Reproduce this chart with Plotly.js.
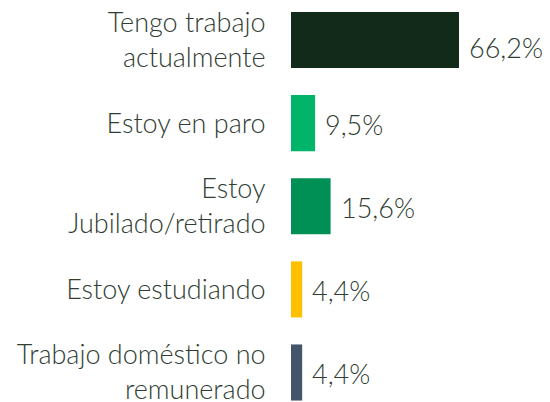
<!DOCTYPE html>
<html><head><meta charset="utf-8">
<script src="https://cdn.plot.ly/plotly-3.0.1.min.js"></script>
<style>html,body{margin:0;padding:0;background:#fff}</style>
</head><body><div id="chart" style="width:550px;height:402px"></div>
<script>
const categories = ["Tengo trabajo<br>actualmente", "Estoy en paro", "Estoy<br>Jubilado/retirado", "Estoy estudiando", "Trabajo doméstico no<br>remunerado"];
const values = [66.2, 9.5, 15.6, 4.4, 4.4];
const valueLabels = ["66,2%", "9,5%", "15,6%", "4,4%", "4,4%"];
const colors = ["#122a19", "#00b46a", "#008f55", "#ffc000", "#44546a"];

const textColor = "#2f3d33";
const fontFam = "Lato, 'Open Sans', sans-serif";

const trace = {
  type: "bar", orientation: "h",
  x: values, y: categories,
  marker: {color: colors},
  width: 0.675,
  hoverinfo: "none"
};

const annotations = values.map((v, i) => ({
  x: v, y: categories[i], xref: "x", yref: "y",
  text: valueLabels[i], showarrow: false,
  xanchor: "left", yanchor: "middle", xshift: 8, yshift: i === 0 ? -7 : -1,
  font: {family: fontFam, size: 27, color: textColor, weight: 300}
}));

const layout = {
  width: 550, height: 402,
  margin: {l: 291, r: 0, t: 0, b: 0, pad: 0},
  paper_bgcolor: "#fff", plot_bgcolor: "#fff",
  showlegend: false,
  xaxis: {range: [0, 102.05], visible: false, fixedrange: true},
  yaxis: {
    type: "category", range: [4.355, -0.482], showgrid: false, zeroline: false, showline: false,
    ticks: "outside", ticklen: 19, tickcolor: "rgba(0,0,0,0)",
    tickfont: {family: fontFam, size: 27, color: textColor, weight: 300}
  },
  annotations: annotations
};
Plotly.newPlot("chart", [trace], layout, {displayModeBar: false, staticPlot: true});
</script></body></html>
